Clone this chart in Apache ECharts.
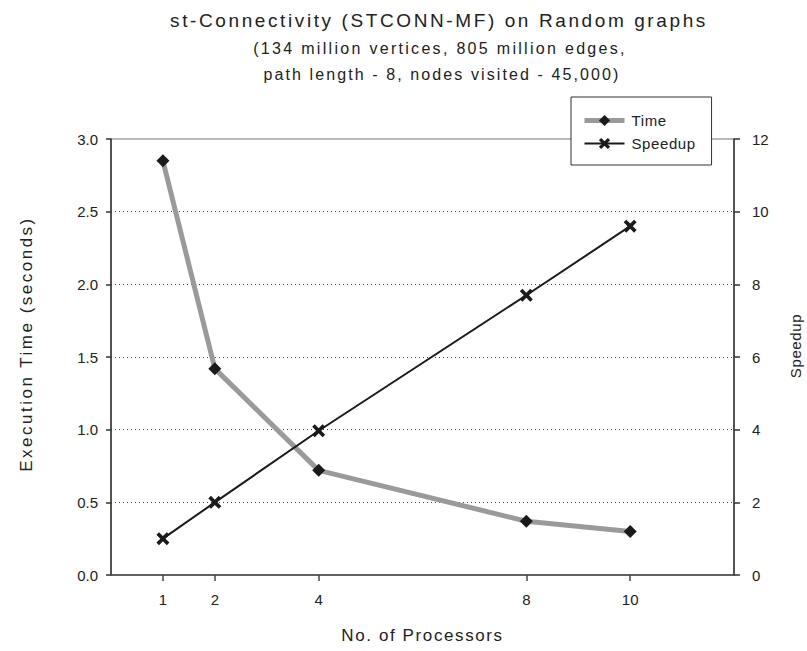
<!DOCTYPE html>
<html>
<head>
<meta charset="utf-8">
<script src="https://cdn.jsdelivr.net/npm/echarts@6/dist/echarts.min.js"></script>
<style>
  html, body { margin: 0; padding: 0; background: #fff; }
  #chart { width: 807px; height: 651px; }
</style>
</head>
<body>
<div id="chart"></div>
<script>
// Processor counts and measured results
const processors = [1, 2, 4, 8, 10];
const timeSeconds = [2.85, 1.42, 0.72, 0.37, 0.30];
const speedup = [1.0, 2.0, 3.97, 7.7, 9.6];
const xTickValues = [1, 2, 4, 8, 10];

const titleText = 'st-Connectivity (STCONN-MF) on Random graphs';
const subLine1 = '(134 million vertices, 805 million edges,';
const subLine2 = 'path length - 8, nodes visited - 45,000)';
const xName = 'No. of Processors';
const yLeftName = 'Execution Time (seconds)';
const yRightName = 'Speedup';

const FONT = 'Liberation Sans, Arial, sans-serif';
const TEXT = '#222';

// filled "x" marker
const crossSymbol = 'path://M2,0 L5,3 L8,0 L10,2 L7,5 L10,8 L8,10 L5,7 L2,10 L0,8 L3,5 L0,2 Z';

const chart = echarts.init(document.getElementById('chart'), null, { renderer: 'svg' });

const titleStyle = (size) => ({ fontFamily: FONT, fontSize: size, fontWeight: 'normal', color: TEXT });

chart.setOption({
  animation: false,
  backgroundColor: '#fff',
  textStyle: { fontFamily: FONT, color: TEXT },
  title: [
    { text: titleText, left: 434, top: 6, textAlign: 'center', textStyle: titleStyle(19) },
    { text: subLine1, left: 435, top: 35, textAlign: 'center', textStyle: titleStyle(16) },
    { text: subLine2, left: 437, top: 61, textAlign: 'center', textStyle: titleStyle(16) }
  ],
  legend: {
    orient: 'vertical',
    left: 571, top: 97,
    padding: [16, 20, 14, 11],
    itemWidth: 40, itemHeight: 14, itemGap: 8,
    selectedMode: false,
    backgroundColor: '#fff',
    borderColor: '#333', borderWidth: 1,
    textStyle: { fontFamily: FONT, fontSize: 15, color: TEXT, padding: [0, 0, 0, 2] },
    data: [
      { name: 'Time', lineStyle: { color: '#9a9a9a', width: 5 } },
      { name: 'Speedup', lineStyle: { color: '#1a1a1a', width: 2 } }
    ]
  },
  grid: {
    left: 111, right: 73, top: 139, bottom: 76,
    outerBoundsMode: 'none',
    show: true, borderColor: '#777', borderWidth: 1, backgroundColor: 'transparent'
  },
  xAxis: {
    type: 'value', min: 0, max: 12,
    name: xName, nameLocation: 'middle', nameGap: 52,
    nameTextStyle: { fontFamily: FONT, fontSize: 17, color: TEXT },
    axisLine: { show: true, lineStyle: { color: '#444', width: 1.5 } },
    axisTick: { show: true, length: 6, lineStyle: { color: '#444', width: 1.5 }, customValues: xTickValues },
    axisLabel: { fontFamily: FONT, fontSize: 15, color: TEXT, margin: 17, customValues: xTickValues },
    splitLine: { show: false }
  },
  yAxis: [
    {
      type: 'value', min: 0, max: 3, interval: 0.5, position: 'left',
      name: yLeftName, nameLocation: 'middle', nameGap: 76, nameRotate: 90,
      nameTextStyle: { fontFamily: FONT, fontSize: 17, color: TEXT, padding: [0, 0, 0, 26] },
      axisLine: { show: true, lineStyle: { color: '#333', width: 1.5 } },
      axisTick: { show: true, length: 5, lineStyle: { color: '#333', width: 1.5 } },
      axisLabel: { fontFamily: FONT, fontSize: 15, color: TEXT, margin: 13, formatter: v => v.toFixed(1) },
      splitLine: { show: true, showMinLine: false, showMaxLine: false, lineStyle: { color: '#444', width: 1, type: [1, 3] } }
    },
    {
      type: 'value', min: 0, max: 12, interval: 2, position: 'right',
      name: yRightName, nameLocation: 'middle', nameGap: 54, nameRotate: 90,
      nameTextStyle: { fontFamily: FONT, fontSize: 15, color: TEXT, padding: [0, 0, 0, 22] },
      axisLine: { show: true, lineStyle: { color: '#333', width: 1.5 } },
      axisTick: { show: true, length: 6, lineStyle: { color: '#333', width: 1.5 } },
      axisLabel: { fontFamily: FONT, fontSize: 15, color: TEXT, margin: 18 },
      splitLine: { show: false }
    }
  ],
  series: [
    {
      name: 'Time', type: 'line', yAxisIndex: 0, silent: true,
      data: processors.map((p, i) => [p, timeSeconds[i]]),
      symbol: 'diamond', symbolSize: 13,
      itemStyle: { color: '#1a1a1a' },
      lineStyle: { color: '#9a9a9a', width: 5 },
      z: 2
    },
    {
      name: 'Speedup', type: 'line', yAxisIndex: 1, silent: true,
      data: processors.map((p, i) => [p, speedup[i]]),
      symbol: crossSymbol, symbolSize: 13,
      itemStyle: { color: '#1a1a1a' },
      lineStyle: { color: '#1a1a1a', width: 2 },
      z: 3
    }
  ]
});

// The headings are set with loose tracking
const tracking = {};
tracking[titleText] = 2.6;
tracking[subLine1] = 2.3;
tracking[subLine2] = 2.1;
tracking[xName] = 1.6;
tracking[yLeftName] = 2.5;
tracking['Time'] = 0.6;
tracking['Speedup'] = 0.6;

function applyTracking() {
  chart.getDom().querySelectorAll('text').forEach(t => {
    const s = tracking[t.textContent];
    if (s) t.setAttribute('letter-spacing', s + 'px');
  });
}
applyTracking();
chart.on('finished', applyTracking);
setTimeout(applyTracking, 0);
</script>
</body>
</html>
